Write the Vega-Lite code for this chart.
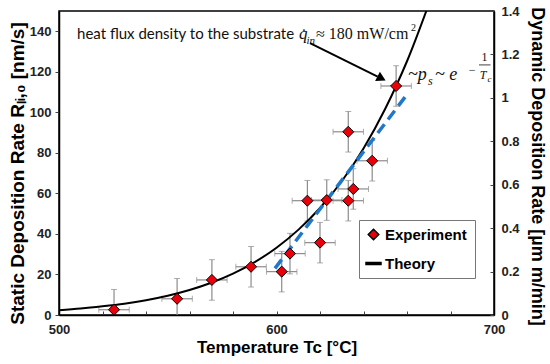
{
"$schema":"https://vega.github.io/schema/vega-lite/v6.json",
"width":435,"height":304,
"autosize":{"type":"none"},
"padding":{"left":59,"top":11,"right":56,"bottom":49},
"background":"white",
"config":{"view":{"stroke":"black","strokeWidth":1.5},"font":"Liberation Sans",
 "axis":{"grid":false,"labelFlush":false,"domainColor":"black","domainWidth":1.5,"tickColor":"#444","labelFont":"Liberation Sans","labelFontWeight":"bold","labelFontSize":13,"labelColor":"#222","titleFont":"Liberation Sans","titleFontWeight":"bold","titleColor":"black"}},
"datasets":{
 "theory":[{"T":500,"R":2.4},{"T":510,"R":3.2},{"T":520,"R":4.3},{"T":530,"R":5.6},{"T":540,"R":7.3},{"T":550,"R":9.5},{"T":560,"R":12.3},{"T":570,"R":15.9},{"T":580,"R":20.4},{"T":590,"R":26.1},{"T":600,"R":33.2},{"T":610,"R":42.0},{"T":620,"R":52.8},{"T":630,"R":66.0},{"T":640,"R":82.2},{"T":650,"R":101.8},{"T":655,"R":113.0},{"T":660,"R":125.2},{"T":670,"R":153.3}],
 "trend":[{"T":599.3,"R":23.0},{"T":660.5,"R":109.5}],
 "exp":[
  {"T":525.3,"R":2.6,"Tlo":518.3,"Thi":532.3,"Rlo":-7.4,"Rhi":12.6,"s":"Experiment"},
  {"T":554.3,"R":8.0,"Tlo":547.3,"Thi":561.3,"Rlo":-2.0,"Rhi":18.0,"s":"Experiment"},
  {"T":570.3,"R":17.3,"Tlo":563.3,"Thi":577.3,"Rlo":7.3,"Rhi":27.3,"s":"Experiment"},
  {"T":588.3,"R":23.8,"Tlo":581.3,"Thi":595.3,"Rlo":13.8,"Rhi":33.8,"s":"Experiment"},
  {"T":602.4,"R":21.4,"Tlo":595.4,"Thi":609.4,"Rlo":11.4,"Rhi":31.4,"s":"Experiment"},
  {"T":606.2,"R":30.3,"Tlo":599.2,"Thi":613.2,"Rlo":20.3,"Rhi":40.3,"s":"Experiment"},
  {"T":614.2,"R":56.4,"Tlo":607.2,"Thi":621.2,"Rlo":46.4,"Rhi":66.4,"s":"Experiment"},
  {"T":620.0,"R":35.7,"Tlo":613.0,"Thi":627.0,"Rlo":25.7,"Rhi":45.7,"s":"Experiment"},
  {"T":623.1,"R":56.7,"Tlo":616.1,"Thi":630.1,"Rlo":46.7,"Rhi":66.7,"s":"Experiment"},
  {"T":633.0,"R":56.4,"Tlo":626.0,"Thi":640.0,"Rlo":46.4,"Rhi":66.4,"s":"Experiment"},
  {"T":635.3,"R":62.2,"Tlo":628.3,"Thi":642.3,"Rlo":52.2,"Rhi":72.2,"s":"Experiment"},
  {"T":633.0,"R":90.4,"Tlo":626.0,"Thi":640.0,"Rlo":80.4,"Rhi":100.4,"s":"Experiment"},
  {"T":644.0,"R":76.1,"Tlo":637.0,"Thi":651.0,"Rlo":66.1,"Rhi":86.1,"s":"Experiment"},
  {"T":655.0,"R":113.0,"Tlo":648.0,"Thi":662.0,"Rlo":103.0,"Rhi":123.0,"s":"Experiment"}
 ]
},
"layer":[
 {"layer":[
  {"data":{"name":"exp"},
   "mark":{"type":"rule","color":"#8c8c8c","strokeWidth":1.2,"clip":true},
   "encoding":{
    "x":{"field":"T","type":"quantitative","scale":{"domain":[500,700],"nice":false},
     "axis":{"title":"Temperature Tc [°C]","values":[500,510,520,530,540,550,560,570,580,590,600,610,620,630,640,650,660,670,680,690,700],
      "labelExpr":"datum.value % 50 === 0 ? datum.label : ''","tickSize":-4,"labelPadding":12,"titleFontSize":17,"titlePadding":3}},
    "y":{"field":"Rlo","type":"quantitative","scale":{"domain":[0,150],"nice":false},
     "axis":{"title":"Static Deposition Rate Rₗᵢ,₀ [nm/s]","values":[0,20,40,60,80,100,120,140],"tickSize":4,"labelPadding":4,"titleFontSize":19,"titlePadding":2,"titleY":162}},
    "y2":{"field":"Rhi"}}},
  {"data":{"name":"exp"},
   "mark":{"type":"rule","color":"#8c8c8c","strokeWidth":1.2,"clip":true},
   "encoding":{"x":{"field":"Tlo","type":"quantitative"},"x2":{"field":"Thi"},"y":{"field":"R","type":"quantitative"}}},
  {"data":{"name":"exp"},
   "mark":{"type":"tick","color":"#8c8c8c","orient":"horizontal","size":6,"thickness":1,"clip":true},
   "encoding":{"x":{"field":"T","type":"quantitative"},"y":{"field":"Rlo","type":"quantitative"}}},
  {"data":{"name":"exp"},
   "mark":{"type":"tick","color":"#8c8c8c","orient":"horizontal","size":6,"thickness":1,"clip":true},
   "encoding":{"x":{"field":"T","type":"quantitative"},"y":{"field":"Rhi","type":"quantitative"}}},
  {"data":{"name":"exp"},
   "mark":{"type":"tick","color":"#8c8c8c","orient":"vertical","size":6,"thickness":1,"clip":true},
   "encoding":{"x":{"field":"Tlo","type":"quantitative"},"y":{"field":"R","type":"quantitative"}}},
  {"data":{"name":"exp"},
   "mark":{"type":"tick","color":"#8c8c8c","orient":"vertical","size":6,"thickness":1,"clip":true},
   "encoding":{"x":{"field":"Thi","type":"quantitative"},"y":{"field":"R","type":"quantitative"}}},
  {"data":{"name":"theory"},
   "mark":{"type":"line","color":"black","strokeWidth":2,"interpolate":"monotone","clip":true},
   "encoding":{"x":{"field":"T","type":"quantitative"},"y":{"field":"R","type":"quantitative"}}},
  {"data":{"name":"trend"},
   "mark":{"type":"line","color":"#1f78c8","strokeWidth":3.5,"strokeDash":[11,6],"strokeCap":"butt","clip":true},
   "encoding":{"x":{"field":"T","type":"quantitative"},"y":{"field":"R","type":"quantitative"}}},
  {"data":{"name":"exp"},
   "mark":{"type":"point","filled":true,"stroke":"black","strokeWidth":1,"size":250,"opacity":1},
   "encoding":{"x":{"field":"T","type":"quantitative"},"y":{"field":"R","type":"quantitative"},
    "color":{"field":"s","type":"nominal","scale":{"domain":["Experiment","Theory"],"range":["#e8000b","black"]},
     "legend":{"title":"\u00a0\u00a0","titleOrient":"right","titlePadding":2,"titleFontSize":15,"orient":"none","legendX":300,"legendY":209,"direction":"vertical","symbolSize":225,"labelFont":"Liberation Sans","labelFontSize":15,"labelFontWeight":"bold","labelColor":"black","padding":6,"rowPadding":12,"strokeColor":"#777","fillColor":"white","labelOffset":3}},
    "shape":{"field":"s","type":"nominal","scale":{"domain":["Experiment","Theory"],"range":["M0,-0.7L0.7,0L0,0.7L-0.7,0Z","M-1,-0.13H1V0.13H-1Z"]},
     "legend":{"title":"\u00a0\u00a0","titleOrient":"right","titlePadding":2,"titleFontSize":15,"orient":"none","legendX":300,"legendY":209,"direction":"vertical","symbolSize":225,"labelFont":"Liberation Sans","labelFontSize":15,"labelFontWeight":"bold","labelColor":"black","padding":6,"rowPadding":12,"strokeColor":"#777","fillColor":"white","labelOffset":3}}}},
  {"data":{"values":[{"T":508.3,"R":138.6,"label":"heat flux density to the substrate"}]},
   "mark":{"type":"text","font":"Lato","fontSize":15,"align":"left","baseline":"middle","color":"#111"},
   "encoding":{"x":{"field":"T","type":"quantitative"},"y":{"field":"R","type":"quantitative"},"text":{"field":"label"}}},
  {"data":{"values":[{"T":610.3,"R":138.6,"label":"q̇"}]},
   "mark":{"type":"text","font":"Liberation Serif","fontStyle":"italic","fontSize":17,"align":"left","baseline":"middle","color":"#111"},
   "encoding":{"x":{"field":"T","type":"quantitative"},"y":{"field":"R","type":"quantitative"},"text":{"field":"label"}}},
  {"data":{"values":[{"T":613.8,"R":135.0,"label":"in"}]},
   "mark":{"type":"text","font":"Liberation Serif","fontStyle":"italic","fontSize":11,"align":"left","baseline":"middle","color":"#111"},
   "encoding":{"x":{"field":"T","type":"quantitative"},"y":{"field":"R","type":"quantitative"},"text":{"field":"label"}}},
  {"data":{"values":[{"T":618.2,"R":138.6,"label":"≈ 180 mW/cm"}]},
   "mark":{"type":"text","font":"Liberation Serif","fontSize":16,"align":"left","baseline":"middle","color":"#111"},
   "encoding":{"x":{"field":"T","type":"quantitative"},"y":{"field":"R","type":"quantitative"},"text":{"field":"label"}}},
  {"data":{"values":[{"T":661.8,"R":141.8,"label":"2"}]},
   "mark":{"type":"text","font":"Liberation Serif","fontSize":10,"align":"left","baseline":"middle","color":"#111"},
   "encoding":{"x":{"field":"T","type":"quantitative"},"y":{"field":"R","type":"quantitative"},"text":{"field":"label"}}},
  {"data":{"values":[{"T":660.5,"R":118.4,"label":"~p"},{"T":672.9,"R":118.4,"label":"~ e"}]},
   "mark":{"type":"text","font":"Liberation Serif","fontStyle":"italic","fontSize":18,"align":"left","baseline":"middle","color":"#111"},
   "encoding":{"x":{"field":"T","type":"quantitative"},"y":{"field":"R","type":"quantitative"},"text":{"field":"label"}}},
  {"data":{"values":[{"T":669.7,"R":115.3,"label":"s"}]},
   "mark":{"type":"text","font":"Liberation Serif","fontStyle":"italic","fontSize":12,"align":"left","baseline":"middle","color":"#111"},
   "encoding":{"x":{"field":"T","type":"quantitative"},"y":{"field":"R","type":"quantitative"},"text":{"field":"label"}}},
  {"data":{"values":[{"T":689.9,"R":121.0,"label":"−"},{"T":695.6,"R":127.2,"label":"1"}]},
   "mark":{"type":"text","font":"Liberation Serif","fontSize":12,"align":"center","baseline":"middle","color":"#111"},
   "encoding":{"x":{"field":"T","type":"quantitative"},"y":{"field":"R","type":"quantitative"},"text":{"field":"label"}}},
  {"data":{"values":[{"T":695.0,"R":118.6,"label":"T"}]},
   "mark":{"type":"text","font":"Liberation Serif","fontStyle":"italic","fontSize":12,"align":"center","baseline":"middle","color":"#111"},
   "encoding":{"x":{"field":"T","type":"quantitative"},"y":{"field":"R","type":"quantitative"},"text":{"field":"label"}}},
  {"data":{"values":[{"T":697.9,"R":116.6,"label":"c"}]},
   "mark":{"type":"text","font":"Liberation Serif","fontStyle":"italic","fontSize":9,"align":"center","baseline":"middle","color":"#111"},
   "encoding":{"x":{"field":"T","type":"quantitative"},"y":{"field":"R","type":"quantitative"},"text":{"field":"label"}}},
  {"data":{"values":[{"T":693.1,"T2":698.4,"R":123.4}]},
   "mark":{"type":"rule","color":"#111","strokeWidth":0.8},
   "encoding":{"x":{"field":"T","type":"quantitative"},"x2":{"field":"T2"},"y":{"field":"R","type":"quantitative"}}},
  {"data":{"values":[{"T":615.4,"R":134.2,"T2":646.5,"R2":117.6}]},
   "mark":{"type":"rule","color":"black","strokeWidth":2},
   "encoding":{"x":{"field":"T","type":"quantitative"},"x2":{"field":"T2"},"y":{"field":"R","type":"quantitative"},"y2":{"field":"R2"}}},
  {"data":{"values":[{"T":648.3,"R":116.7}]},
   "mark":{"type":"point","shape":"triangle-right","angle":27,"size":110,"filled":true,"color":"black","opacity":1},
   "encoding":{"x":{"field":"T","type":"quantitative"},"y":{"field":"R","type":"quantitative"}}}
 ]},
 {"data":{"values":[{"v":0},{"v":1.4}]},
  "mark":{"type":"point","opacity":0},
  "encoding":{"y":{"field":"v","type":"quantitative","scale":{"domain":[0,1.4],"nice":false},
   "axis":{"orient":"right","title":"Dynamic Deposition Rate [µm m/min]","values":[0,0.2,0.4,0.6,0.8,1,1.2,1.4],"format":"~g","tickSize":-4,"labelPadding":11,"titleFontSize":18,"titlePadding":8,"titleY":155}}}}
],
"resolve":{"scale":{"y":"independent"}}
}
